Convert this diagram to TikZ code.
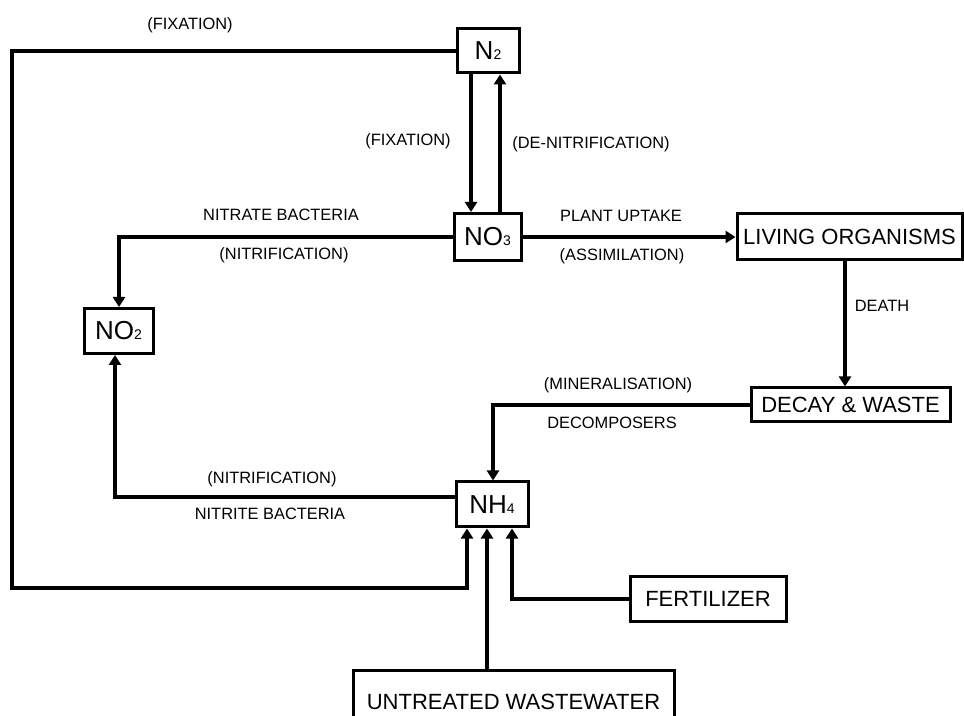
\documentclass[tikz,border=0pt]{standalone}
\usepackage{fontspec}
\setmainfont{Liberation Sans}
\usetikzlibrary{arrows.meta}
\newcommand{\chemsub}[1]{{\fontsize{7}{8}\selectfont #1}}
\begin{document}
\begin{tikzpicture}[x=0.5pt,y=-0.5pt,
  box/.style={draw, line width=1.5pt, inner sep=0pt, font=\fontsize{11}{13}\selectfont},
  chem/.style={box, font=\fontsize{13}{15}\selectfont},
  lbl/.style={font=\fontsize{8.2}{10}\selectfont, inner sep=0pt},
  flow/.style={line width=2.2pt, -{Triangle[length=5pt,width=6pt]}},
  flowthin/.style={line width=1.6pt, -{Triangle[length=5pt,width=6pt]}},
  ]
\useasboundingbox (0,0) rectangle (964,716);
\fill[white] (0,0) rectangle (964,716);

% nodes
\node[chem, minimum width=31pt, minimum height=22pt] (n2) at (488,51) {N\chemsub{2}};
\node[chem, minimum width=33.5pt, minimum height=23.5pt] (no3) at (487.5,237) {NO\chemsub{3}};
\node[box, minimum width=112.5pt, minimum height=23pt] (liv) at (849.5,237) {LIVING ORGANISMS};
\node[chem, minimum width=34.5pt, minimum height=22.5pt] (no2) at (118.5,331) {NO\chemsub{2}};
\node[box, minimum width=99.5pt, minimum height=17pt] (decay) at (850.5,405) {DECAY \& WASTE};
\node[chem, minimum width=36pt, minimum height=22.5pt] (nh4) at (492,504.5) {NH\chemsub{4}};
\node[box, minimum width=78pt, minimum height=22.5pt] (fert) at (708,599) {FERTILIZER};
\node[box, minimum width=160.5pt, minimum height=32pt] (unt) at (513.5,702) {UNTREATED WASTEWATER};

% helper coordinates
\coordinate (fa) at (12,51);
\coordinate (fb) at (12,588);
\coordinate (fc) at (467,588);
\coordinate (xa) at (471,0);
\coordinate (xb) at (500,0);
\coordinate (xc) at (119,0);
\coordinate (xd) at (845,0);
\coordinate (xe) at (493,0);
\coordinate (xf) at (115,0);
\coordinate (yl) at (0,497);
\coordinate (xg) at (487,0);
\coordinate (xh) at (512,0);

% connectors
\draw[flow] (n2.west) -- (fa) -- (fb) -- (fc) -- (fc |- nh4.south);
\draw[flowthin] (xa |- n2.south) -- (xa |- no3.north);
\draw[flowthin] (xb |- no3.north) -- (xb |- n2.south);
\draw[flow] (no3.east) -- (liv.west);
\draw[flow] (no3.west) -- (no3.west -| xc) -- (xc |- no2.north);
\draw[flow] (xd |- liv.south) -- (xd |- decay.north);
\draw[flowthin] (decay.west) -- (decay.west -| xe) -- (xe |- nh4.north);
\draw[flow] (yl -| nh4.west) -- (yl -| xf) -- (xf |- no2.south);
\draw[flow] (xg |- unt.north) -- (xg |- nh4.south);
\draw[flow] (fert.west) -- (fert.west -| xh) -- (xh |- nh4.south);

% labels
\node[lbl] (l1) at (190,25) {(FIXATION)};
\node[lbl] (l2) at (408,141) {(FIXATION)};
\node[lbl] (l3) at (591,144) {(DE-NITRIFICATION)};
\node[lbl] (l4) at (621,216) {PLANT UPTAKE};
\node[lbl] (l5) at (622,256) {(ASSIMILATION)};
\node[lbl] (l6) at (281,215) {NITRATE BACTERIA};
\node[lbl] (l7) at (284,255) {(NITRIFICATION)};
\node[lbl] (l8) at (882,306) {DEATH};
\node[lbl] (l9) at (618,385) {(MINERALISATION)};
\node[lbl] (l10) at (612,423) {DECOMPOSERS};
\node[lbl] (l11) at (272,479) {(NITRIFICATION)};
\node[lbl] (l12) at (270,514) {NITRITE BACTERIA};
\end{tikzpicture}
\end{document}
